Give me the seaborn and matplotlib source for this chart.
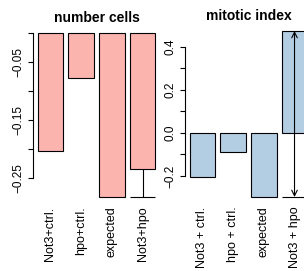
"""Two R-style barplots: number cells and mitotic index (log-ratio vs control)."""

import matplotlib

matplotlib.use("Agg")
import matplotlib.pyplot as plt  # noqa: E402
import seaborn as sns  # noqa: E402

cells_labels = ["Not3+ctrl.", "hpo+ctrl.", "expected", "Not3+hpo"]
cells_values = [-0.203, -0.078, -0.283, -0.234]
cells_err_low = -0.283
cells_ticks = [0.0, -0.05, -0.10, -0.15, -0.20, -0.25]
cells_ticklabels = ["", "\u22120.05", "", "\u22120.15", "", "\u22120.25"]

mitotic_labels = ["Not3 + ctrl.", "hpo + ctrl.", "expected", "Not3 + hpo"]
mitotic_values = [-0.205, -0.088, -0.298, 0.474]
mitotic_err_low = -0.298
mitotic_err_high = 0.474
mitotic_ticks = [-0.2, -0.1, 0.0, 0.1, 0.2, 0.3, 0.4]
mitotic_ticklabels = ["\u22120.2", "", "0.0", "", "0.2", "", "0.4"]

sns.set_style("white")
plt.rcParams["font.family"] = ["Liberation Sans", "DejaVu Sans"]
plt.rcParams.update({"text.color": "black", "xtick.color": "black",
                     "ytick.color": "black", "axes.labelcolor": "black"})

W, H = 304, 271
fig = plt.figure(figsize=(W / 100, H / 100), dpi=100)


def px_axes(x0, y_top, x1, y_bot):
    return fig.add_axes([x0 / W, 1 - y_bot / H, (x1 - x0) / W, (y_bot - y_top) / H])


def style_axes(ax, title, labels, ticks, ticklabels, ylim):
    ax.set_ylim(*ylim)
    ax.set_xlim(-0.57, 3.57)
    for s in ["top", "right", "bottom"]:
        ax.spines[s].set_visible(False)
    ax.spines["left"].set_color("black")
    ax.spines["left"].set_linewidth(0.8)
    ax.spines["left"].set_bounds(min(ticks), max(ticks))
    ax.set_yticks(ticks)
    ax.set_yticklabels(ticklabels, rotation=90, va="center", fontsize=8.5)
    ax.tick_params(axis="y", left=True, length=3.8, width=0.8, pad=2, color="black")
    ax.set_xticks(range(len(labels)))
    ax.set_xticklabels(labels, rotation=90, fontsize=9)
    ax.tick_params(axis="x", bottom=False, length=0, pad=7)
    ax.set_xlabel("")
    ax.set_ylabel("")
    ax.set_title(title, fontsize=10, fontweight="bold", pad=8, color="black")
    ax.patch.set_alpha(0)
    for p in ax.patches:
        p.set_clip_on(False)


# number cells
ax1 = px_axes(33, 33, 160, 197)
sns.barplot(x=cells_labels, y=cells_values, ax=ax1, color="#FBB4AE", saturation=1,
            edgecolor="black", linewidth=0.8, width=0.833)
style_axes(ax1, "number cells", cells_labels, cells_ticks, cells_ticklabels,
           (cells_err_low, 0))
ax1.plot([3, 3], [cells_values[3], cells_err_low], color="black", lw=0.8, clip_on=False)
ax1.hlines(cells_err_low, 3 - 0.42, 3 + 0.42, color="black", lw=0.8, clip_on=False)

# mitotic index
ax2 = px_axes(185, 31, 312, 197)
sns.barplot(x=mitotic_labels, y=mitotic_values, ax=ax2, color="#B3CDE3", saturation=1,
            edgecolor="black", linewidth=0.8, width=0.833)
style_axes(ax2, "mitotic index", mitotic_labels, mitotic_ticks, mitotic_ticklabels,
           (mitotic_err_low, mitotic_err_high))
ax2.annotate("", xy=(3, mitotic_err_high), xytext=(3, mitotic_err_low),
             arrowprops=dict(arrowstyle="<->", lw=0.8, color="black",
                             shrinkA=0, shrinkB=0, mutation_scale=10),
             annotation_clip=False)
ax2.hlines(mitotic_err_low, 3 - 0.42, 3 + 0.42, color="black", lw=0.8, clip_on=False)

fig.savefig("out.png", dpi=100)
